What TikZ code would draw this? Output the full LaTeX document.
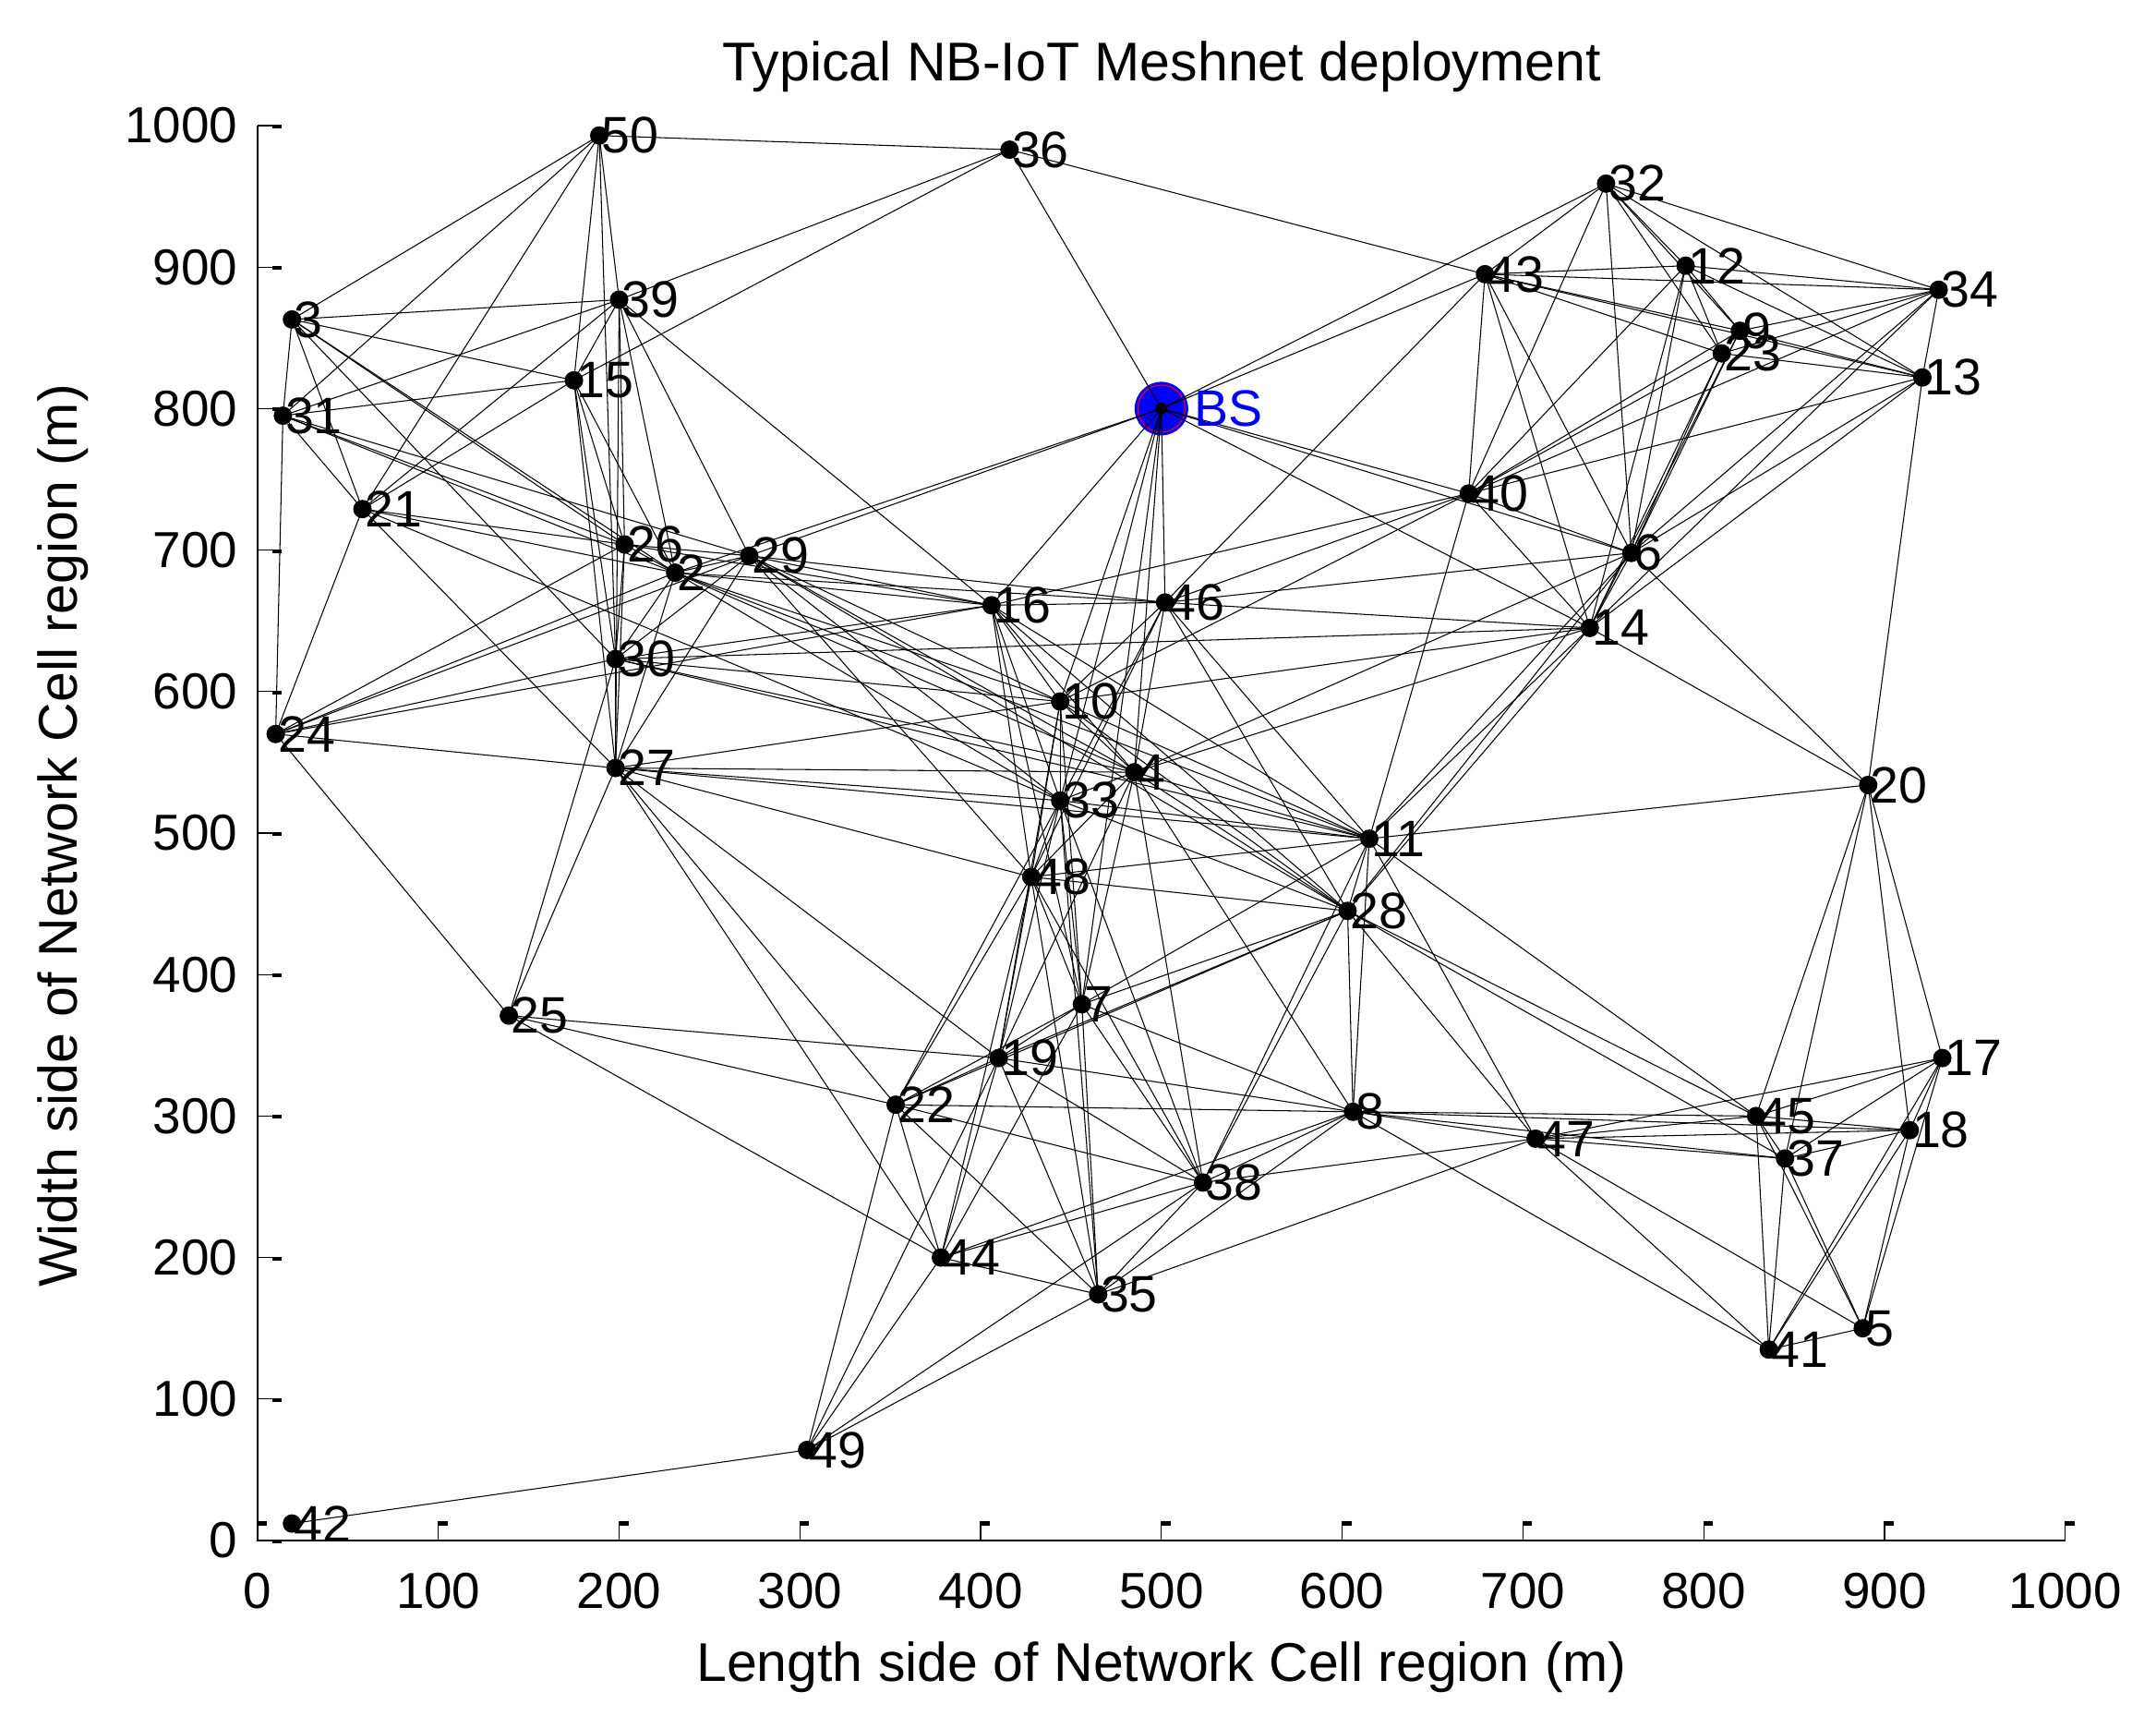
\documentclass[tikz,border=0pt]{standalone}
\usepackage{fontspec}
\setmainfont{Liberation Sans}
\usetikzlibrary{calc}
\begin{document}
\begin{tikzpicture}[
  lnk/.style={line width=0.3pt, black},
  nlab/.style={anchor=west, inner sep=0pt, xshift=0.02cm, font=\fontsize{15.8}{18}\selectfont},
  ticklab/.style={inner sep=0pt, font=\fontsize{15.6}{18}\selectfont},
  biglab/.style={inner sep=0pt, font=\fontsize{16.8}{20}\selectfont},
  axisline/.style={line width=0.45pt, black}
]
\fill[white] (0,0) rectangle (23.35,18.70);
\useasboundingbox (0,0) rectangle (23.35,18.70);

\node[biglab, anchor=base] (title) at (12.58,17.82) {Typical NB-IoT Meshnet deployment};
\node[biglab, anchor=base] (xlab) at (12.58,0.50) {Length side of Network Cell region (m)};
\node[biglab, anchor=base, rotate=90] (ylab) at (0.84,9.65) {Width side of Network Cell region (m)};

\begin{scope}[shift={(2.79cm,2.02cm)}, x=0.01958cm, y=0.01532cm]
  % node positions (data units, m)
  \foreach \n/\px/\py in {
    1/500/800, 2/231/684, 3/19/863, 4/485/543, 5/888/150, 6/760/698, 7/456/379,
    8/606/303, 9/820/855, 10/444/593, 11/615/496, 12/790/901, 13/921/822,
    14/737/645, 15/175/820, 16/406/661, 17/932/341, 18/914/290, 19/410/341,
    20/891/534, 21/58/729, 22/353/308, 23/810/839, 24/10/570, 25/139/371,
    26/203/704, 27/198/546, 28/603/445, 29/272/696, 30/198/623, 31/14/795,
    32/746/959, 33/444/523, 34/930/884, 35/465/174, 36/416/983, 37/845/270,
    38/523/253, 39/200/877, 40/670/740, 41/836/135, 42/19/12, 43/679/895,
    44/378/200, 45/829/300, 46/502/663, 47/707/284, 48/428/469, 49/304/64,
    50/189/993}
    \coordinate (n\n) at (\px,\py);

  % axes
  \draw[axisline] (0,1000) -- (0,0) -- (1000,0);
  \foreach \t in {0,100,...,1000} {
    \draw[line width=0.35pt] (0,\t) -- ++(0.26cm,0);
    \fill ($(0,\t)+(0.16cm,0.01cm)$) rectangle ++(0.10cm,-0.04cm);
    \node[ticklab, anchor=east, xshift=-0.21cm] at (0,\t) {\t};
    \draw[line width=0.35pt] (\t,0) -- ++(0,0.21cm);
    \fill ($(\t,0)+(0,0.21cm)$) rectangle ++(0.10cm,-0.05cm);
    \node[ticklab, anchor=north, yshift=-0.35cm] at (\t,0) {\t};
  }

  % base station marker
  \fill[blue] (n1) circle (0.29cm);
  \draw[red, line width=0.3pt] (n1) circle (0.255cm);

  % links
  \foreach \a/\b in {
    50/36, 50/3, 50/31, 50/21, 50/15, 50/39, 50/30,
    3/39, 3/15, 3/31, 3/21, 3/26, 3/2, 3/30,
    39/31, 39/21, 39/36, 39/15, 39/16, 39/29, 39/2, 39/27, 39/26,
    15/31, 15/36, 15/21, 15/26, 15/30, 15/27, 15/2,
    31/21, 31/24, 31/26, 31/2, 31/29,
    21/24, 21/26, 21/2, 21/27, 21/33,
    24/26, 24/2, 24/29, 24/16, 24/30, 24/27, 24/25,
    26/2, 26/29, 26/30, 26/27, 26/16,
    2/29, 2/30, 2/27, 2/16, 2/10, 2/4, 2/33, 2/11, 2/46, 2/1,
    29/30, 29/27, 29/16, 29/10, 29/4, 29/33, 29/48, 29/46, 29/28, 29/1,
    30/27, 30/25, 30/10, 30/4, 30/11, 30/14, 30/16,
    27/25, 27/22, 27/10, 27/33, 27/4, 27/48, 27/11, 27/19, 27/44,
    25/22, 25/19, 25/44,
    36/1, 36/43,
    1/43, 1/32, 1/40, 1/6, 1/14, 1/16, 1/46, 1/10, 1/33, 1/4, 1/7,
    43/32, 43/12, 43/34, 43/9, 43/13, 43/23, 43/40, 43/6, 43/14, 43/46,
    32/12, 32/9, 32/23, 32/34, 32/13, 32/40, 32/6,
    12/34, 12/13, 12/9, 12/23, 12/6, 12/14, 12/40,
    9/34, 9/13, 9/6, 9/14, 9/40,
    23/34, 23/13, 23/40, 23/6, 23/14,
    34/13, 34/40, 34/6, 34/14,
    13/40, 13/6, 13/20, 13/14,
    40/6, 40/14, 40/16, 40/46, 40/11, 40/10,
    6/14, 6/20, 6/46, 6/11, 6/28, 6/4,
    14/20, 14/46, 14/10, 14/4, 14/11, 14/28,
    20/11, 20/45, 20/37, 20/18, 20/17,
    16/46, 16/10, 16/4, 16/33, 16/48, 16/7, 16/28, 16/11,
    46/10, 46/4, 46/33, 46/11, 46/28, 46/48,
    10/4, 10/33, 10/48, 10/11, 10/28, 10/19, 10/7,
    4/33, 4/48, 4/11, 4/28, 4/7, 4/19, 4/38, 4/8,
    33/48, 33/11, 33/28, 33/7, 33/19, 33/22, 33/38, 33/35,
    48/11, 48/28, 48/7, 48/19, 48/22, 48/44, 48/35, 48/38,
    11/28, 11/8, 11/47, 11/45, 11/38, 11/7,
    28/7, 28/19, 28/22, 28/8, 28/38, 28/47, 28/45, 28/37,
    7/19, 7/22, 7/38, 7/35, 7/8, 7/44,
    19/22, 19/44, 19/35, 19/38, 19/8, 19/49,
    22/8, 22/38, 22/44, 22/35, 22/49,
    44/35, 44/38, 44/8, 44/49,
    35/38, 35/8, 35/47, 35/49,
    38/8, 38/47, 38/49,
    8/47, 8/45, 8/37, 8/41, 8/18,
    47/45, 47/18, 47/37, 47/17, 47/5, 47/41,
    45/18, 45/37, 45/41, 45/17, 45/5,
    37/18, 37/17, 37/41, 37/5,
    18/17, 18/41, 18/5,
    17/41, 17/5,
    41/5,
    42/49}
    \draw[lnk] (n\a) -- (n\b);

  % node dots and labels
  \foreach \i in {2,...,50} {
    \fill (n\i) circle (0.1cm);
    \node[nlab] (lab\i) at (n\i) {\i};
  }
  \fill (n1) circle (0.065cm);
  \node[nlab, text=blue, xshift=0.33cm] (labBS) at (n1) {BS};
\end{scope}
\end{tikzpicture}
\end{document}
